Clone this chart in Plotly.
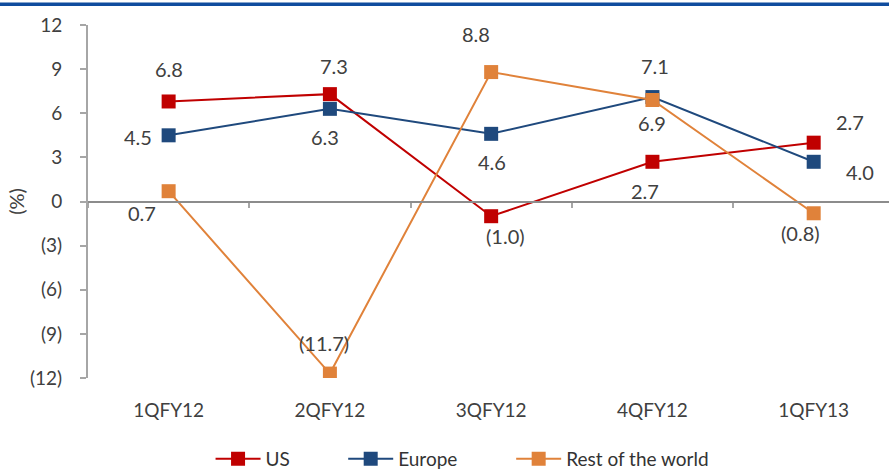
import plotly.graph_objects as go

quarters = ["1QFY12", "2QFY12", "3QFY12", "4QFY12", "1QFY13"]
us = [6.8, 7.3, -1.0, 2.7, 4.0]
europe = [4.5, 6.3, 4.6, 7.1, 2.7]
rest_of_world = [0.7, -11.7, 8.8, 6.9, -0.8]
y_ticks = [-12, -9, -6, -3, 0, 3, 6, 9, 12]

# per-point label offsets (xshift, yshift) in pixels
us_offsets = [(0, 32), (4, 28), (14, -20), (-7, -29), (46, -29)]
europe_offsets = [(-31, -2), (-5, -28), (1, -28), (3, 31), (36, 40)]
rest_offsets = [(-27, -22), (-6, 31), (-15, 38), (0, -23), (-13, -20)]

FONT = "Lato"
TEXT_COLOR = "#404040"


def fmt(v):
    return f"({abs(v):.1f})" if v < 0 else f"{v:.1f}"


def tick_fmt(v):
    return f"({abs(v)})" if v < 0 else str(v)


# each series gets its own legend box so the entries can be spaced freely
series = [
    ("US", us, "#c00000", us_offsets, "legend", 0.153),
    ("Europe", europe, "#1f497d", europe_offsets, "legend2", 0.3186),
    ("Rest of the world", rest_of_world, "#e0823a", rest_offsets, "legend3", 0.5283),
]

fig = go.Figure()
annotations = []
legend_layouts = {}
for name, vals, color, offs, leg, leg_x in series:
    fig.add_trace(go.Scatter(
        x=quarters, y=vals, name=name, mode="lines+markers", legend=leg,
        line=dict(color=color, width=2),
        marker=dict(symbol="square", size=14, color=color),
    ))
    legend_layouts[leg] = dict(
        orientation="h", x=leg_x, xanchor="left", y=-0.175, yanchor="top",
        font=dict(family=FONT, size=19, color="#333333"),
        itemwidth=45, bgcolor="rgba(0,0,0,0)",
    )
    for q, v, (dx, dy) in zip(quarters, vals, offs):
        annotations.append(dict(
            x=q, y=v, xref="x", yref="y", text=fmt(v), showarrow=False,
            xshift=dx, yshift=dy,
            font=dict(family=FONT, size=20, color=TEXT_COLOR),
        ))

# helper trace to carry the zero-line axis with boundary ticks
fig.add_trace(go.Scatter(x=quarters, y=[0] * len(quarters), xaxis="x2",
                         mode="markers", marker=dict(opacity=0),
                         showlegend=False, hoverinfo="skip"))

fig.update_layout(
    width=889, height=470,
    margin=dict(l=88, r=0, t=25, b=92, autoexpand=False),
    paper_bgcolor="white", plot_bgcolor="white",
    font=dict(family=FONT, color=TEXT_COLOR),
    xaxis=dict(
        type="category", range=[-0.5, 4.467], showline=False, showgrid=False,
        zeroline=False, ticks="", ticklabelstandoff=19, automargin=False,
        tickfont=dict(family=FONT, size=19, color=TEXT_COLOR),
    ),
    xaxis2=dict(
        type="category", range=[-0.5, 4.467], overlaying="x", anchor="free",
        position=0.5, side="bottom", showline=True, linecolor="#8c8c8c",
        linewidth=2, ticks="outside", tickson="boundaries", ticklen=5,
        tickcolor="#a6a6a6", tickwidth=2, showticklabels=False, showgrid=False,
        zeroline=False, automargin=False,
    ),
    yaxis=dict(
        range=[-12, 12], tickvals=y_ticks,
        ticktext=[tick_fmt(t) for t in y_ticks],
        showline=True, linecolor="#a6a6a6", linewidth=2,
        ticks="outside", ticklen=6, tickcolor="#a6a6a6", tickwidth=2,
        showgrid=False, zeroline=False, ticklabelstandoff=14, automargin=False,
        tickfont=dict(family=FONT, size=19, color=TEXT_COLOR),
        title=dict(text="(%)", font=dict(family=FONT, size=20, color=TEXT_COLOR),
                   standoff=0),
    ),
    annotations=annotations,
    shapes=[dict(type="rect", xref="paper", yref="paper",
                 x0=-0.2, x1=1.1, y0=1.054, y1=1.064,
                 fillcolor="#0f4c9e", line=dict(width=0))],
    **legend_layouts,
)

fig.write_html("out.html")
